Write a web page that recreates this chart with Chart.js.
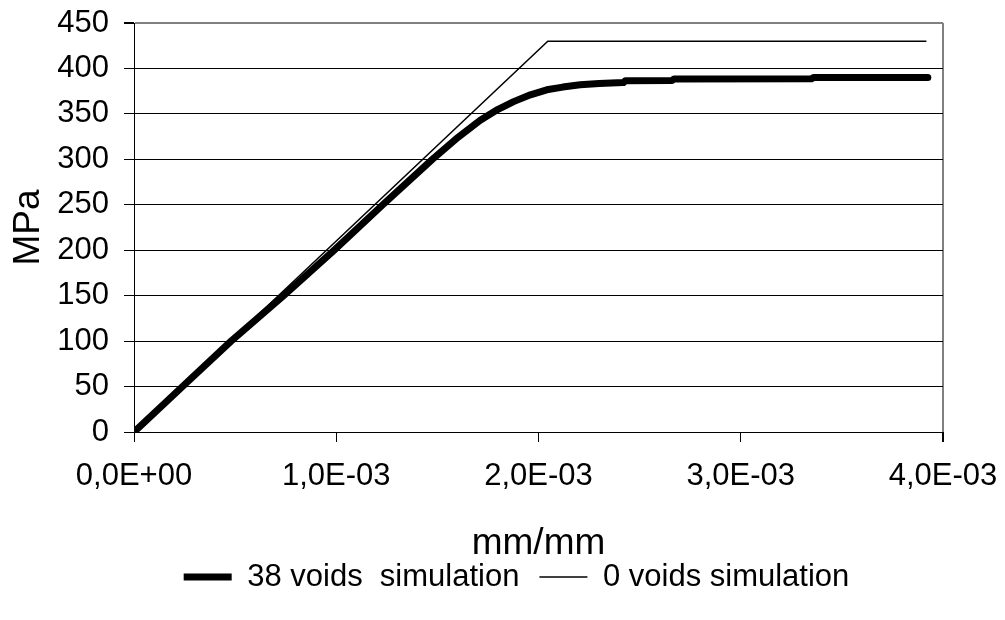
<!DOCTYPE html>
<html>
<head>
<meta charset="utf-8">
<script src="https://cdn.jsdelivr.net/npm/chart.js@4.4.1/dist/chart.umd.min.js"></script>
<style>
  html, body { margin: 0; padding: 0; background: #fff; }
  #kutu { position: relative; width: 1005px; height: 620px; }
</style>
</head>
<body>
<div id="kutu"><canvas id="grafik"></canvas></div>
<script>
// ── DATA ──
const seriesLabels = ['38 voids  simulation', '0 voids simulation']

// 38 voids (thick curve)
const strain38 = [0, 0.24e-3, 0.48e-3, 0.74e-3, 0.99e-3, 1.23e-3, 1.475e-3, 1.59e-3, 1.712e-3,
  1.80e-3, 1.877e-3, 1.96e-3, 2.041e-3, 2.12e-3, 2.206e-3, 2.30e-3, 2.42e-3, 2.43e-3,
  2.66e-3, 2.67e-3, 3.35e-3, 3.36e-3, 3.925e-3]
const stress38 = [0, 50, 100, 150, 200, 250, 300, 322, 343,
  355, 363.5, 371, 376.5, 379.5, 382, 383.5, 384.5, 386.5,
  386.7, 388.5, 388.6, 390, 390]

// 0 voids (thin curve)
const strain0 = [0, 2.046e-3, 3.918e-3]
const stress0 = [0, 430, 430]

const xTicks = [0, 1e-3, 2e-3, 3e-3, 4e-3]
const xTickLabels = ['0,0E+00', '1,0E-03', '2,0E-03', '3,0E-03', '4,0E-03']
const yTicks = [0, 50, 100, 150, 200, 250, 300, 350, 400, 450]

// ── CHART ──
Chart.defaults.font.family = '"Liberation Sans", Arial, sans-serif'
Chart.defaults.color = '#000'

const points = (xs, ys) => xs.map((x, i) => ({ x, y: ys[i] }))

new Chart(document.getElementById('grafik'), {
  type: 'scatter',
  data: {
    datasets: [
      {
        label: seriesLabels[0],
        data: points(strain38, stress38),
        showLine: true,
        borderColor: '#000',
        backgroundColor: '#000',
        borderWidth: 7,
        borderCapStyle: 'round',
        borderJoinStyle: 'round',
        pointRadius: 0,
        pointStyle: 'line'
      },
      {
        label: seriesLabels[1],
        data: points(strain0, stress0),
        showLine: true,
        borderColor: '#000',
        backgroundColor: '#000',
        borderWidth: 1.5,
        pointRadius: 0,
        pointStyle: 'line'
      }
    ]
  },
  options: {
    responsive: true,
    maintainAspectRatio: false,
    animation: false,
    layout: { padding: { left: 28, right: 0, top: 23, bottom: 17.5 } },
    plugins: {
      tooltip: { enabled: false },
      legend: {
        position: 'bottom',
        labels: {
          usePointStyle: true,
          pointStyleWidth: 48,
          padding: 20,
          color: '#000',
          font: { size: 31 }
        }
      }
    },
    scales: {
      x: {
        type: 'linear',
        min: 0,
        max: 4e-3,
        afterBuildTicks: s => { s.ticks = xTicks.map(v => ({ value: v })) },
        afterFit: s => { s.height = 109.5; s.paddingRight = 62 },
        ticks: {
          padding: 16,
          maxRotation: 0,
          autoSkip: false,
          font: { size: 31 },
          callback: (v, i) => xTickLabels[i]
        },
        grid: {
          tickLength: 10,
          tickColor: '#000',
          color: c => c.index === xTicks.length - 1 ? '#808080' : 'rgba(0,0,0,0)',
          lineWidth: c => c.index === xTicks.length - 1 ? 2 : 1
        },
        border: { color: '#000', width: 1 },
        title: {
          display: true,
          text: 'mm/mm',
          font: { size: 37 },
          padding: { top: 0, bottom: -24 }
        }
      },
      y: {
        min: 0,
        max: 450,
        afterBuildTicks: s => { s.ticks = yTicks.map(v => ({ value: v })) },
        afterFit: s => { s.width = 106; s.paddingTop = 0; s.paddingBottom = 0 },
        ticks: {
          padding: 15,
          font: { size: 31 }
        },
        grid: {
          tickLength: 10,
          tickColor: '#000',
          color: c => c.index === yTicks.length - 1 ? '#808080' : '#000',
          lineWidth: c => c.index === yTicks.length - 1 ? 2 : 1
        },
        border: { color: '#000', width: 1 },
        title: {
          display: true,
          text: 'MPa',
          font: { size: 37 },
          padding: { top: -21.5, bottom: 0 }
        }
      }
    }
  }
})
</script>
</body>
</html>
